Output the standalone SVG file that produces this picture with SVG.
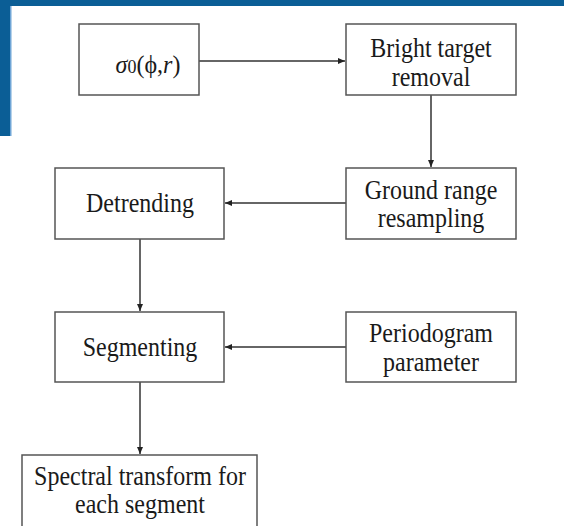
<svg xmlns="http://www.w3.org/2000/svg" width="564" height="526" viewBox="0 0 564 526">
<style>
.box{fill:#fff;stroke:#555;stroke-width:1.5}
.t{font-family:"Liberation Serif","Times New Roman",serif;font-size:24px;fill:#1a1a1a;text-anchor:middle}
.c{stroke:#333;stroke-width:1.5;fill:none}
</style>
<defs>
<marker id="ah" markerWidth="8" markerHeight="8" refX="7" refY="4" orient="auto" markerUnits="userSpaceOnUse">
<path d="M0,1 L7,4 L0,7 Z" fill="#222"/>
</marker>
</defs>
<rect width="564" height="526" fill="#fff"/>
<g id="frame">
<rect x="0" y="0" width="564" height="6" fill="#0b5e96"/>
<rect x="0" y="0" width="11" height="136" fill="#0b5e96"/>
<rect x="10" y="6" width="1.5" height="130" fill="#6fa5d6"/>
</g>
<g id="connectors">
<line class="c" x1="199" y1="61" x2="345" y2="61" marker-end="url(#ah)"/>
<line class="c" x1="431" y1="95" x2="431" y2="167" marker-end="url(#ah)"/>
<line class="c" x1="346" y1="203" x2="225" y2="203" marker-end="url(#ah)"/>
<line class="c" x1="140" y1="239" x2="140" y2="311" marker-end="url(#ah)"/>
<line class="c" x1="346" y1="347" x2="225" y2="347" marker-end="url(#ah)"/>
<line class="c" x1="140" y1="382" x2="140" y2="454" marker-end="url(#ah)"/>
</g>
<g id="n1">
<rect class="box" x="79" y="24" width="120" height="71"/>
<text class="t" transform="translate(148,73) scale(1,1.08)" font-size="27"><tspan font-style="italic">σ</tspan><tspan font-size="18">0</tspan>(ϕ,<tspan font-style="italic">r</tspan>)</text>
</g>
<g id="n2">
<rect class="box" x="346" y="24" width="170" height="71"/>
<text class="t" transform="translate(431,57) scale(1,1.1)">Bright target</text>
<text class="t" transform="translate(431,86) scale(1,1.1)">removal</text>
</g>
<g id="n3">
<rect class="box" x="346" y="168" width="170" height="71"/>
<text class="t" transform="translate(431,199) scale(1,1.1)">Ground range</text>
<text class="t" transform="translate(431,227) scale(1,1.1)">resampling</text>
</g>
<g id="n4">
<rect class="box" x="55" y="168" width="169" height="71"/>
<text class="t" transform="translate(140,212) scale(1,1.1)">Detrending</text>
</g>
<g id="n5">
<rect class="box" x="55" y="312" width="169" height="70"/>
<text class="t" transform="translate(140,356) scale(1,1.1)">Segmenting</text>
</g>
<g id="n6">
<rect class="box" x="346" y="312" width="170" height="70"/>
<text class="t" transform="translate(431,342) scale(1,1.1)">Periodogram</text>
<text class="t" transform="translate(431,371) scale(1,1.1)">parameter</text>
</g>
<g id="n7">
<rect class="box" x="22" y="455" width="235" height="75"/>
<text class="t" transform="translate(140,485) scale(1,1.1)">Spectral transform for</text>
<text class="t" transform="translate(140,513) scale(1,1.1)">each segment</text>
</g>
</svg>
